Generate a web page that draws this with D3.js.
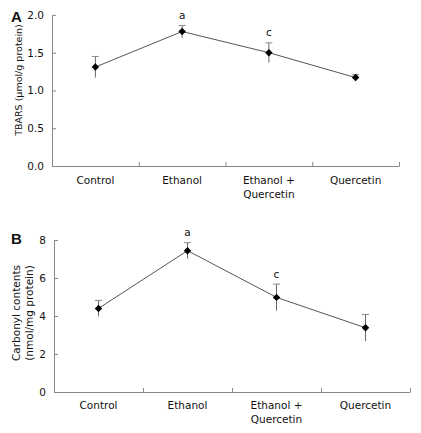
<!DOCTYPE html>
<html>
<head>
<meta charset="utf-8">
<script src="https://cdn.jsdelivr.net/npm/d3@7"></script>
<style>
  body { margin: 0; background: #fff; }
  svg { display: block; }
  text { font-family: "DejaVu Sans", Verdana, sans-serif; fill: #111; }
</style>
</head>
<body>
<svg id="chart" width="421" height="433"></svg>
<script>
const categories = ["Control", "Ethanol", "Ethanol +\nQuercetin", "Quercetin"];

const tbarsMean = [1.31, 1.78, 1.50, 1.17];
const tbarsSE   = [0.14, 0.08, 0.13, 0.04];
const tbarsSig  = ["", "a", "c", ""];
const tbarsTicks = [0, 0.5, 1.0, 1.5, 2.0];

const carbMean = [4.40, 7.44, 4.98, 3.38];
const carbSE   = [0.42, 0.42, 0.70, 0.70];
const carbSig  = ["", "a", "c", ""];
const carbTicks = [0, 2, 4, 6, 8];

const svg = d3.select("#chart");

function panel(opts) {
  const { letter, letterPos, x0, x1, yTop, yBot, yMax, ticks, fmt, means, ses, sigs,
          titleLines, titleX, titleY, titleSize, labelY, labelDy } = opts;
  const g = svg.append("g");
  const x = d3.scaleBand().domain(categories).range([x0, x1]);
  const xb = d3.scaleLinear().domain([0, categories.length]).range([x0, x1]);
  const y = d3.scaleLinear().domain([0, yMax]).range([yBot, yTop]);

  // Y axis
  const ya = g.append("g").attr("transform", `translate(${x0},0)`)
    .call(d3.axisLeft(y).tickValues(ticks).tickFormat(fmt).tickSizeInner(-4).tickSizeOuter(0).tickPadding(8));
  ya.select(".domain").attr("stroke", "#888").attr("d", `M0.5,${y(yMax)}V${yBot}`);
  ya.selectAll(".tick line").attr("stroke", "#888");
  ya.selectAll(".tick text").style("font-size", "10.5px").attr("fill", "#111")
    .style("font-family", '"DejaVu Sans", sans-serif');

  // X axis (boundary ticks)
  const xa = g.append("g").attr("transform", `translate(0,${yBot})`)
    .call(d3.axisBottom(xb).tickValues(d3.range(1, categories.length + 1)).tickFormat("").tickSizeInner(-4).tickSizeOuter(0));
  xa.select(".domain").attr("stroke", "#888");
  xa.selectAll(".tick line").attr("stroke", "#888");

  // X labels
  categories.forEach((c, i) => {
    const lines = c.split("\n");
    const t = g.append("text").attr("x", x(c) + x.bandwidth() / 2).attr("y", labelY)
      .attr("text-anchor", "middle").style("font-size", "10.5px");
    lines.forEach((l, j) => {
      t.append("tspan").attr("x", x(c) + x.bandwidth() / 2).attr("dy", j === 0 ? 0 : labelDy).text(l);
    });
  });

  const cx = i => x(categories[i]) + x.bandwidth() / 2;

  // Line
  const line = d3.line().x((d, i) => cx(i)).y(d => y(d));
  g.append("path").datum(means).attr("d", line).attr("fill", "none")
    .attr("stroke", "#555").attr("stroke-width", 1);

  // Error bars
  means.forEach((m, i) => {
    const X = cx(i);
    g.append("line").attr("x1", X).attr("x2", X).attr("y1", y(m - ses[i])).attr("y2", y(m + ses[i]))
      .attr("stroke", "#666").attr("stroke-width", 1);
    g.append("line").attr("x1", X - 3.5).attr("x2", X + 3.5).attr("y1", y(m + ses[i])).attr("y2", y(m + ses[i]))
      .attr("stroke", "#888").attr("stroke-width", 1);
  });

  // Markers
  const sym = d3.symbol().type(d3.symbolSquare).size(28);
  means.forEach((m, i) => {
    g.append("path").attr("d", sym())
      .attr("transform", `translate(${cx(i)},${y(m)}) rotate(45)`).attr("fill", "#000");
  });

  // Significance letters
  sigs.forEach((s, i) => {
    if (!s) return;
    g.append("text").attr("x", cx(i)).attr("y", y(means[i] + ses[i]) - 6.5)
      .attr("text-anchor", "middle").style("font-size", "10.5px").text(s);
  });

  // Y title
  const tt = g.append("text")
    .attr("transform", `translate(${titleX},${titleY}) rotate(-90)`)
    .attr("text-anchor", "middle").style("font-size", titleSize + "px");
  titleLines.forEach((l, j) => {
    tt.append("tspan").attr("x", 0).attr("dy", j === 0 ? 0 : 12.5).text(l);
  });

  // Panel letter
  g.append("text").attr("x", letterPos[0]).attr("y", letterPos[1])
    .style("font-family", '"Liberation Sans", Arial, sans-serif').style("font-weight", "bold")
    .style("font-size", "15px").attr("fill", "#000").text(letter);
}

panel({
  letter: "A", letterPos: [11, 22],
  x0: 52, x1: 399, yTop: 14.9, yBot: 166, yMax: 2,
  ticks: tbarsTicks, fmt: d3.format(".1f"),
  means: tbarsMean, ses: tbarsSE, sigs: tbarsSig,
  titleLines: ["TBARS (\u03bcmol/g protein)"], titleX: 22, titleY: 80, titleSize: 9.5,
  labelY: 184, labelDy: 13.5
});

panel({
  letter: "B", letterPos: [11, 244],
  x0: 54, x1: 410, yTop: 240, yBot: 392, yMax: 8,
  ticks: carbTicks, fmt: d3.format("d"),
  means: carbMean, ses: carbSE, sigs: carbSig,
  titleLines: ["Carbonyl  contents", "(nmol/mg protein)"], titleX: 20, titleY: 313, titleSize: 10.5,
  labelY: 409, labelDy: 14
});
</script>
</body>
</html>
